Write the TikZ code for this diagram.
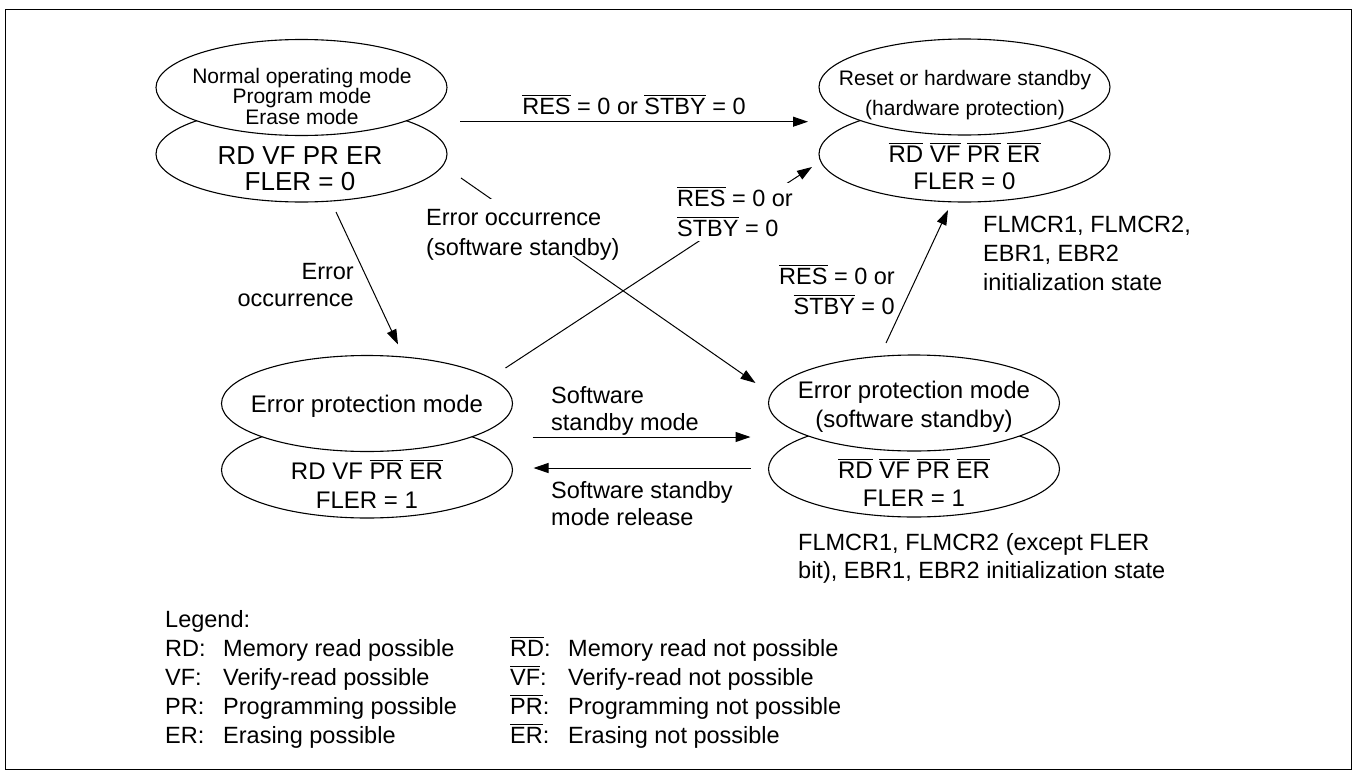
\documentclass[tikz,border=0pt]{standalone}
\usepackage{fontspec}
\setmainfont{Liberation Sans}
\usetikzlibrary{shapes.geometric,arrows.meta,calc}
\newcommand\ovl[1]{\leavevmode\vbox{\hrule height 1pt\kern 2pt\hbox{#1}}}
\newcommand\mlc[1]{\begin{tabular}[t]{@{}c@{}}#1\end{tabular}}
\newcommand\mll[1]{\begin{tabular}[t]{@{}l@{}}#1\end{tabular}}
\newcommand\mlr[1]{\begin{tabular}[t]{@{}r@{}}#1\end{tabular}}
\newcommand\fsz[2]{\fontsize{#1}{#2}\selectfont}
\begin{document}
\begin{tikzpicture}[x=1pt,y=-1pt,
  ell/.style={ellipse, draw, line width=1.1pt, fill=white, minimum width=291pt, minimum height=96pt, inner sep=0pt, outer sep=0pt},
  txt/.style={inner sep=0pt, anchor=base, font=\fsz{24}{28}},
  arr/.style={line width=1pt, -{Triangle[length=15pt,width=10pt]}}]
\useasboundingbox (0,0) rectangle (1354,771);
\draw[line width=1.2pt] (5.5,9.5) rectangle (1351.5,769.5);
% state ellipses
\node[ell] (A2) at (301.5,154) {};
\node[ell] (A1) at (301.5,87.5) {};
\node[ell] (B2) at (964.5,154) {};
\node[ell] (B1) at (964.5,87) {};
\node[ell] (C2) at (367,470) {};
\node[ell] (C1) at (367,403.5) {};
\node[ell] (D2) at (914,469) {};
\node[ell] (D1) at (914,403) {};
% connectors
\draw[arr] ([xshift=13pt,yshift=-34.2pt]A1.east) -- ([xshift=-11pt,yshift=-34.7pt]B1.west);
\draw[arr] ([xshift=34.5pt,yshift=-10pt]A2.south) -- ([xshift=31pt,yshift=11pt]C1.north);
\draw[arr] ([xshift=14pt,yshift=-24pt]A2.east) -- ([xshift=-13pt,yshift=20pt]D1.west);
\draw[arr] ([xshift=-7pt,yshift=35.5pt]C1.east) -- ([xshift=-7pt,yshift=-13pt]B2.west);
\draw[arr] ([xshift=-28pt,yshift=12pt]D1.north) -- ([xshift=-16.5pt,yshift=-8pt]B2.south);
\draw[arr] ([xshift=20pt,yshift=-33.5pt]C1.east) -- ([xshift=-18pt,yshift=-34pt]D1.west);
\draw[arr] ([xshift=-18pt,yshift=1pt]D2.west) -- ([xshift=21pt,yshift=2pt]C2.east);
% texts in ellipses
\node[txt, font=\fsz{21}{17.3}] (tA1) at (302,83.5) {\mlc{Normal operating mode\\Program mode\\Erase mode}};
\node[txt, font=\fsz{26}{26}] (tA2) at (300,164.3) {\mlc{RD VF PR ER\\FLER = 0}};
\node[txt, font=\fsz{21}{30.5}] (tB1) at (965,85) {\mlc{Reset or hardware standby\\(hardware protection)}};
\node[txt, font=\fsz{24}{27}] (tB2) at (964.5,162.6) {\mlc{\ovl{RD} \ovl{VF} \ovl{PR} \ovl{ER}\\FLER = 0}};
\node[txt] (tC1) at (367,412.6) {Error protection mode};
\node[txt, font=\fsz{24}{29}] (tC2) at (367,479.6) {\mlc{RD VF \ovl{PR} \ovl{ER}\\FLER = 1}};
\node[txt, font=\fsz{24}{29}] (tD1) at (914,398.6) {\mlc{Error protection mode\\(software standby)}};
\node[txt, font=\fsz{24}{28}] (tD2) at (914,478.6) {\mlc{\ovl{RD} \ovl{VF} \ovl{PR} \ovl{ER}\\FLER = 1}};
% connector labels
\node[txt, font=\fsz{23.5}{28}] (lAB) at (634,114.6) {\ovl{RES} = 0 or \ovl{STBY} = 0};
\node[txt, anchor=base east, font=\fsz{23.5}{27}] (lAC) at (354,279.6) {\mlr{Error\\occurrence}};
\node[txt, anchor=base west, font=\fsz{23.5}{30}, fill=white, text height=26.6pt, text depth=30pt] (lAD) at (426,225.6) {\mll{Error occurrence\\(software standby)}};
\node[txt, anchor=base west, font=\fsz{23.5}{30}, fill=white, text height=23.6pt, text depth=34pt] (lCB) at (677,206.6) {\mll{\ovl{RES} = 0 or\\\ovl{STBY} = 0}};
\node[txt, anchor=base east, font=\fsz{23.5}{30}] (lDB) at (895,284.6) {\mlr{\ovl{RES} = 0 or\\\ovl{STBY} = 0}};
\node[txt, anchor=base west, font=\fsz{23.5}{27}] (lCD) at (551,403.6) {\mll{Software\\standby mode}};
\node[txt, anchor=base west, font=\fsz{23.5}{27}] (lDC) at (551,498.6) {\mll{Software standby\\mode release}};
% notes
\node[txt, anchor=base west, font=\fsz{23.5}{29}] (nB) at (983,232.6) {\mll{FLMCR1, FLMCR2,\\EBR1, EBR2\\initialization state}};
\node[txt, anchor=base west, font=\fsz{23.5}{28}] (nD) at (798,550.6) {\mll{FLMCR1, FLMCR2 (except FLER\\bit), EBR1, EBR2 initialization state}};
% legend
\node[txt, anchor=base west, font=\fsz{23.5}{29}] (legL) at (165,627.6) {\begin{tabular}[t]{@{}p{58pt}@{}l@{}}\multicolumn{2}{@{}l@{}}{Legend:}\\RD: & Memory read possible\\VF: & Verify-read possible\\PR: & Programming possible\\ER: & Erasing possible\end{tabular}};
\node[txt, anchor=base west, font=\fsz{23.5}{29}] (legR) at (510,656.6) {\begin{tabular}[t]{@{}p{58pt}@{}l@{}}\ovl{RD}: & Memory read not possible\\\ovl{VF}: & Verify-read not possible\\\ovl{PR}: & Programming not possible\\\ovl{ER}: & Erasing not possible\end{tabular}};
\end{tikzpicture}
\end{document}
